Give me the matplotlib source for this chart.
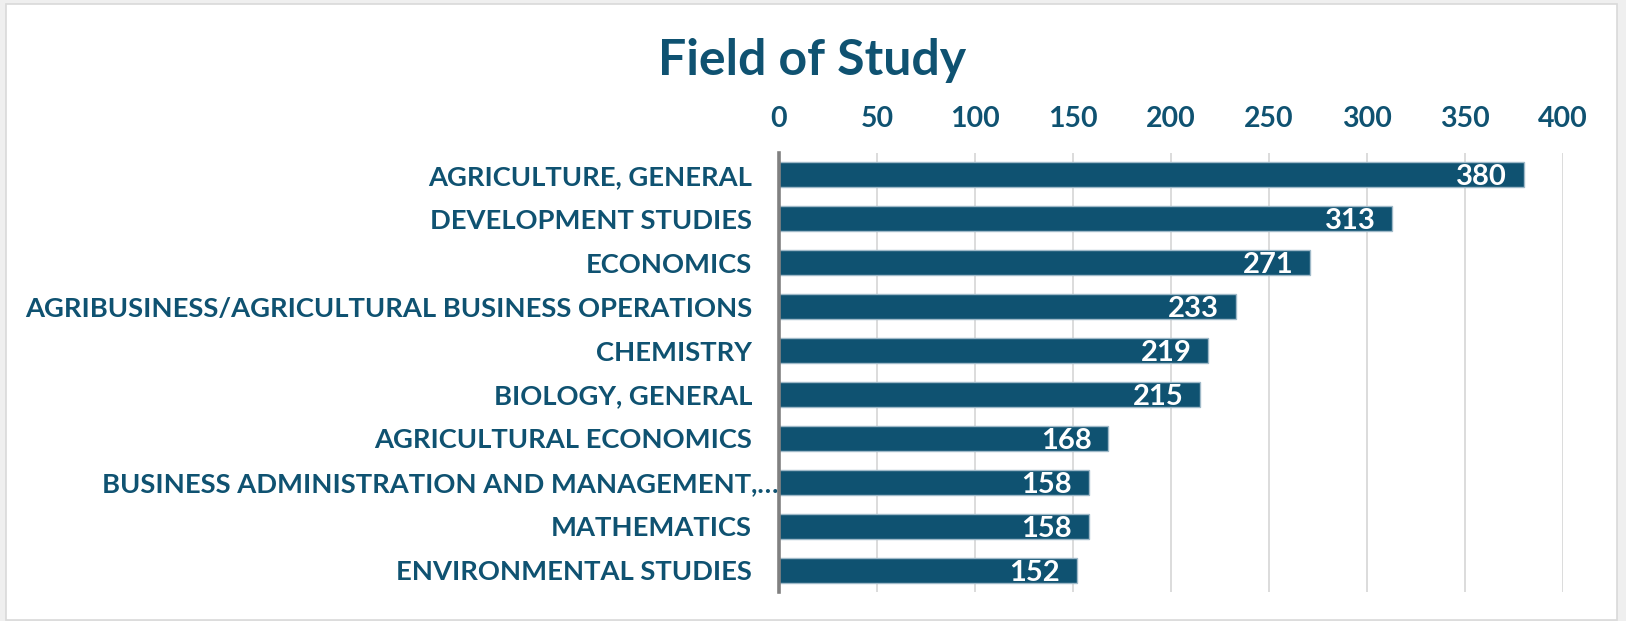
import matplotlib
matplotlib.use("Agg")
import matplotlib.pyplot as plt
from matplotlib.patches import Rectangle
from matplotlib.transforms import ScaledTranslation

# data (top to bottom)
fields = [
    "AGRICULTURE, GENERAL",
    "DEVELOPMENT STUDIES",
    "ECONOMICS",
    "AGRIBUSINESS/AGRICULTURAL BUSINESS OPERATIONS",
    "CHEMISTRY",
    "BIOLOGY, GENERAL",
    "AGRICULTURAL ECONOMICS",
    "BUSINESS ADMINISTRATION AND MANAGEMENT,\u2026",
    "MATHEMATICS",
    "ENVIRONMENTAL STUDIES",
]
counts = [380, 313, 271, 233, 219, 215, 168, 158, 158, 152]
x_ticks = [0, 50, 100, 150, 200, 250, 300, 350, 400]

navy = "#0f5271"
plt.rcParams["font.family"] = ["Lato", "DejaVu Sans"]

W, H = 1626, 621
fig = plt.figure(figsize=(W / 100, H / 100), dpi=100)
fig.patch.set_facecolor("#efefef")

# white card with thin grey frame (behind everything)
fig.patches.append(Rectangle((6 / W, 1 - 620 / H), (1617 - 6) / W, (620 - 4) / H,
                             transform=fig.transFigure, facecolor="white",
                             edgecolor="#d9d9d9", linewidth=1.2, zorder=-10))

ax = fig.add_axes([779 / W, 1 - 592 / H, (1563 - 779) / W, (592 - 153) / H])
ax.set_facecolor("none")

ypos = list(range(len(fields)))
bars = ax.barh(ypos, counts, height=0.57, color=navy,
               edgecolor="#9fb9c8", linewidth=1.0, zorder=3)

for b, v in zip(bars, counts):
    ax.text(b.get_width() - 8.5, b.get_y() + b.get_height() / 2, str(v),
            ha="right", va="center_baseline", color="white",
            fontsize=21, fontweight="bold", zorder=4)

ax.set_xlim(0, 400)
ax.set_ylim(len(fields) - 0.5, -0.5)
ax.set_xticks(x_ticks)
ax.set_yticks(ypos)
ax.set_yticklabels(fields)
ax.xaxis.tick_top()
ax.tick_params(axis="x", length=0, pad=15, labelsize=20.5, labelcolor=navy)
ax.tick_params(axis="y", length=0, pad=19.5, labelsize=19.7, labelcolor=navy)
for lab in ax.get_xticklabels() + ax.get_yticklabels():
    lab.set_fontweight("bold")

# the truncated label runs closer to the axis, like the original
long_lab = ax.get_yticklabels()[7]
long_lab.set_transform(long_lab.get_transform()
                       + ScaledTranslation(0.27, 0, fig.dpi_scale_trans))

ax.grid(axis="x", color="#d9d9d9", linewidth=1.3, zorder=0)
ax.set_axisbelow(True)
for s in ["top", "right", "bottom"]:
    ax.spines[s].set_visible(False)
ax.spines["left"].set_color("#808080")
ax.spines["left"].set_linewidth(2.6)
ax.spines["left"].set_zorder(5)

fig.text(812 / W, 1 - 75 / H, "Field of Study", ha="center", va="baseline",
         fontsize=36, fontweight="bold", color=navy)

fig.savefig("out.png", dpi=100, facecolor=fig.get_facecolor())
